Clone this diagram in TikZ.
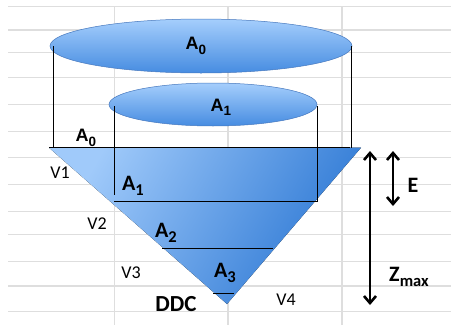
\documentclass[tikz,border=0pt]{standalone}
\usepackage{fontspec}
\setmainfont{Carlito}
\newfontfamily\arialf{Liberation Sans}
\usetikzlibrary{arrows.meta}
\newcommand\lowidx[1]{\raisebox{-0.45ex}{\scalebox{0.75}{#1}}}
\definecolor{gridc}{RGB}{222,222,222}
\definecolor{elltop}{RGB}{165,206,252}
\definecolor{ellbot}{RGB}{70,140,225}
\definecolor{elledge}{RGB}{70,120,190}
\definecolor{trilight}{RGB}{160,202,250}
\definecolor{tridark}{RGB}{45,120,212}
\tikzset{
  gridline/.style={draw=gridc, line width=1.1pt},
  ellshape/.style={draw=elledge, line width=0.5pt, top color=elltop, bottom color=ellbot},
  thin black/.style={draw=black, line width=0.9pt},
  albl/.style={font=\arialf\bfseries\fontsize{18}{18}\selectfont, inner sep=0pt},
  clbl/.style={font=\bfseries\fontsize{22}{22}\selectfont, inner sep=0pt},
  vlbl/.style={font=\fontsize{18}{18}\selectfont, inner sep=0pt},
  bigarrow/.style={line width=2.6pt, {Straight Barb[length=7pt,width=12pt,line width=2.6pt]}-{Straight Barb[length=7pt,width=12pt,line width=2.6pt]}}
}
\begin{document}
\begin{tikzpicture}[x=1pt,y=-1pt]
\useasboundingbox (0,0) rectangle (451,327);
\fill[white] (0,0) rectangle (451,327);
% grid
\foreach \yy in {6.7,30,52.7,77.3,104.5,131.5,157.7,184.3,211.3,234.7,261.7,286,311.3}
  \draw[gridline] (8,\yy) -- (451,\yy);
\foreach \xx in {114.3,228,342}
  \draw[gridline] (\xx,6.7) -- (\xx,325);
% ellipses
\path[ellshape] (201,46) ellipse [x radius=151, y radius=27];
\path[ellshape] (213,104.5) ellipse [x radius=104, y radius=21.5];
\coordinate (bl) at (53,46);
\coordinate (br) at (351,46);
\coordinate (sl) at (114,106);
\coordinate (sr) at (317,106);
% triangle
\coordinate (tl) at (49,147.7);
\coordinate (tr) at (361,147.7);
\coordinate (apex) at (227,304);
\fill[shading=axis, left color=trilight, right color=tridark, shading angle=60]
  (tl) -- (tr) -- (apex) -- cycle;
\coordinate (bl2) at (53,147.7);
\coordinate (br2) at (351,147.7);
\coordinate (sl2) at (114,195);
\coordinate (sr2) at (317,201);
\draw[thin black] (bl) -- (bl2);
\draw[thin black] (br) -- (br2);
\draw[thin black] (sl) -- (sl2);
\draw[thin black] (sr) -- (sr2);
\coordinate (l0a) at (49,147.7);
\coordinate (l0b) at (350,147.7);
\draw[thin black] (l0a) -- (l0b);
\coordinate (l1a) at (114,201);
\coordinate (l1b) at (318,201);
\draw[thin black] (l1a) -- (l1b);
\coordinate (l2a) at (162,248);
\coordinate (l2b) at (273,248);
\draw[thin black] (l2a) -- (l2b);
\coordinate (l3a) at (213,293);
\coordinate (l3b) at (234,293);
\draw[thin black] (l3a) -- (l3b);
% labels
\node[albl] (ea0) at (196,46) {A\lowidx{0}};
\node[albl] (ea1) at (221,107) {A\lowidx{1}};
\node[albl] (la0) at (86,138) {A\lowidx{0}};
\node[clbl] (ta1) at (133,186) {A\lowidx{1}};
\node[clbl] (ta2) at (166,233) {A\lowidx{2}};
\node[clbl] (ta3) at (225,273) {A\lowidx{3}};
\node[font=\bfseries\fontsize{23}{23}\selectfont, inner sep=0pt] (ddc) at (176,304) {DDC};
\node[vlbl] (v1) at (60,173) {V1};
\node[vlbl] (v2) at (97,224) {V2};
\node[vlbl] (v3) at (131,273) {V3};
\node[vlbl] (v4) at (286,300) {V4};
\node[clbl] (e) at (413,185) {E};
\node[clbl] (zm) at (409,277) {Z\lowidx{max}};
% arrows
\coordinate (za) at (370,151);
\coordinate (zb) at (370,305);
\draw[bigarrow] (za) -- (zb);
\coordinate (ea) at (393,151);
\coordinate (eb) at (393,206);
\draw[bigarrow] (ea) -- (eb);
\end{tikzpicture}
\end{document}
